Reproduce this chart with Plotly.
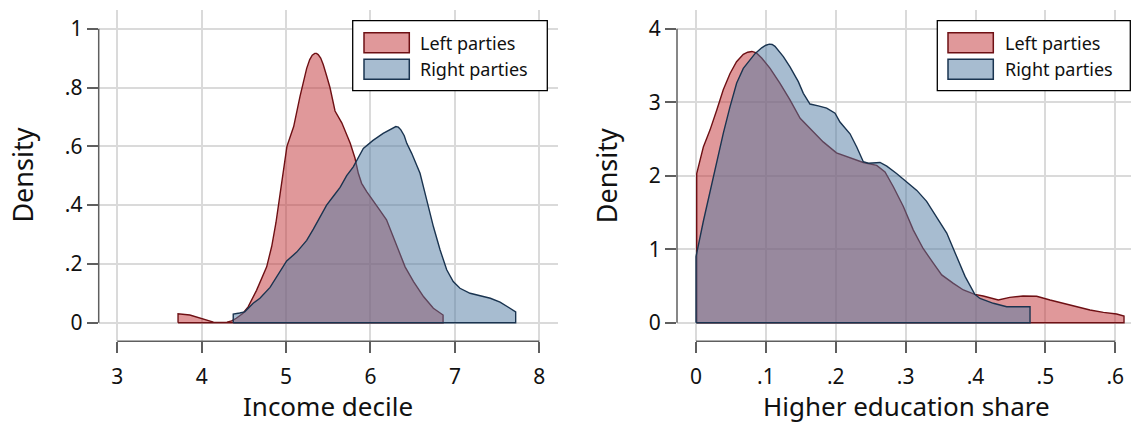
import plotly.graph_objects as go

# ---------------- data ----------------
# Panel 1: Income decile densities
inc_left_x = [3.72, 3.86, 3.98, 4.08, 4.14, 4.22, 4.30, 4.355, 4.41, 4.49, 4.55, 4.65, 4.77, 4.83, 4.88,
              4.93, 4.97, 5.01, 5.09, 5.165, 5.244, 5.28, 5.31, 5.34, 5.36, 5.38, 5.41, 5.44, 5.48,
              5.52, 5.58, 5.66, 5.76, 5.816, 5.856, 5.895, 5.955, 6.03, 6.11, 6.19, 6.29, 6.41, 6.51,
              6.63, 6.745, 6.86]
inc_left_y = [0.030, 0.026, 0.015, 0.006, 0.002, 0.001, 0.002, 0.006, 0.015, 0.032, 0.054, 0.11, 0.19, 0.26, 0.34,
              0.44, 0.52, 0.60, 0.667, 0.77, 0.865, 0.895, 0.910, 0.916, 0.916, 0.912, 0.900, 0.878, 0.84,
              0.80, 0.72, 0.68, 0.61, 0.56, 0.508, 0.474, 0.446, 0.417, 0.383, 0.35, 0.28, 0.19, 0.14,
              0.088, 0.049, 0.026]

inc_right_x = [4.374, 4.45, 4.51, 4.61, 4.69, 4.81, 4.93, 5.007, 5.126, 5.244, 5.323, 5.40, 5.48, 5.56,
               5.64, 5.718, 5.796, 5.915, 6.03, 6.15, 6.22, 6.26, 6.30, 6.33, 6.36, 6.40, 6.43, 6.488,
               6.587, 6.666, 6.745, 6.824, 6.903, 6.98, 7.06, 7.18, 7.30, 7.42, 7.535, 7.65, 7.72]
inc_right_y = [0.029, 0.033, 0.037, 0.066, 0.083, 0.12, 0.173, 0.21, 0.24, 0.28, 0.318, 0.36, 0.40, 0.43,
               0.46, 0.50, 0.53, 0.593, 0.62, 0.644, 0.655, 0.662, 0.667, 0.665, 0.656, 0.636, 0.61, 0.576,
               0.508, 0.418, 0.327, 0.248, 0.180, 0.140, 0.117, 0.100, 0.091, 0.083, 0.070, 0.049, 0.037]

# Panel 2: Higher education share densities
edu_left_x = [0.001, 0.0105, 0.020, 0.0296, 0.039, 0.0487, 0.058, 0.0677, 0.074, 0.080, 0.0864, 0.094, 0.106,
              0.120, 0.1345, 0.149, 0.163, 0.182, 0.201, 0.2204, 0.2394, 0.2586, 0.2705, 0.2824, 0.2967,
              0.311, 0.325, 0.3396, 0.3516, 0.3683, 0.3826, 0.399, 0.411, 0.4326, 0.449, 0.468, 0.4875,
              0.5066, 0.5257, 0.5448, 0.5638, 0.583, 0.602, 0.6125]
edu_left_y = [2.03, 2.39, 2.62, 2.89, 3.17, 3.39, 3.55, 3.65, 3.68, 3.69, 3.67, 3.60, 3.46,
              3.26, 3.03, 2.78, 2.64, 2.46, 2.31, 2.24, 2.18, 2.14, 2.05, 1.85, 1.58,
              1.26, 1.01, 0.81, 0.65, 0.536, 0.445, 0.386, 0.363, 0.309, 0.345, 0.363, 0.36,
              0.309, 0.264, 0.227, 0.173, 0.141, 0.118, 0.091]

edu_right_x = [0.0, 0.0105, 0.020, 0.0296, 0.0391, 0.0487, 0.0582, 0.0677, 0.0773, 0.0844, 0.094, 0.1000,
               0.1049, 0.109, 0.113, 0.125, 0.1345, 0.1464, 0.1536, 0.1631, 0.175, 0.187, 0.199, 0.206,
               0.2204, 0.23, 0.2394, 0.2466, 0.2633, 0.273, 0.287, 0.3015, 0.316, 0.330, 0.3445, 0.3588,
               0.373, 0.385, 0.399, 0.4064, 0.4255, 0.4446, 0.459, 0.478]
edu_right_y = [0.90, 1.38, 1.78, 2.17, 2.58, 2.94, 3.26, 3.46, 3.57, 3.66, 3.74, 3.775,
               3.79, 3.785, 3.76, 3.62, 3.48, 3.28, 3.12, 2.975, 2.95, 2.92, 2.85, 2.73,
               2.57, 2.39, 2.19, 2.17, 2.18, 2.13, 2.03, 1.92, 1.80, 1.65, 1.44, 1.22,
               0.90, 0.63, 0.386, 0.33, 0.264, 0.218, 0.218, 0.218]

series_names = ["Left parties", "Right parties"]

inc_ticks = [3, 4, 5, 6, 7, 8]
inc_ticktext = ["3", "4", "5", "6", "7", "8"]
inc_yticks = [0, 0.2, 0.4, 0.6, 0.8, 1]
inc_yticktext = ["0", ".2", ".4", ".6", ".8", "1"]
edu_ticks = [0, 0.1, 0.2, 0.3, 0.4, 0.5, 0.6]
edu_ticktext = ["0", ".1", ".2", ".3", ".4", ".5", ".6"]
edu_yticks = [0, 1, 2, 3, 4]
edu_yticktext = ["0", "1", "2", "3", "4"]

# ---------------- styling ----------------
W, H = 1131, 425
FONT = "Noto Sans"
LEFT_FILL = "rgba(193,49,53,0.5)"
LEFT_LINE = "rgb(110,16,20)"
RIGHT_FILL = "rgba(79,121,161,0.5)"
RIGHT_LINE = "rgb(26,52,80)"
GRID = "#dadada"
AXIS = "#5f5f5f"


def closed(xs, ys):
    px = [xs[0]] + list(xs) + [xs[-1], xs[0]]
    py = [0] + list(ys) + [0, 0]
    return px, py


fig = go.Figure()
for (xs, ys, fill, line, name, xa, ya) in [
    (inc_left_x, inc_left_y, LEFT_FILL, LEFT_LINE, series_names[0], "x", "y"),
    (inc_right_x, inc_right_y, RIGHT_FILL, RIGHT_LINE, series_names[1], "x", "y"),
    (edu_left_x, edu_left_y, LEFT_FILL, LEFT_LINE, series_names[0], "x2", "y2"),
    (edu_right_x, edu_right_y, RIGHT_FILL, RIGHT_LINE, series_names[1], "x2", "y2"),
]:
    px, py = closed(xs, ys)
    fig.add_trace(go.Scatter(x=px, y=py, mode="lines", fill="toself", fillcolor=fill,
                             line=dict(color=line, width=1.4), name=name, showlegend=False,
                             xaxis=xa, yaxis=ya, hoverinfo="skip"))

ydom = [(H - 341.3) / H, (H - 10) / H]
axis_common = dict(showgrid=True, gridcolor=GRID, gridwidth=1.5, zeroline=False, showline=False,
                   ticks="outside", ticklen=11, tickwidth=1.5, tickcolor=AXIS,
                   tickfont=dict(family=FONT, size=21, color="#111"), tickmode="array")

fig.update_layout(
    width=W, height=H, margin=dict(l=0, r=0, t=0, b=0),
    paper_bgcolor="white", plot_bgcolor="white", showlegend=False,
    xaxis=dict(domain=[98.7 / W, 557.7 / W], range=[2.78, 8.218], tickvals=inc_ticks,
               ticktext=inc_ticktext, anchor="y", ticklabelstandoff=5, **axis_common),
    yaxis=dict(domain=ydom, range=[-0.0633, 1.0636], tickvals=inc_yticks,
               ticktext=inc_yticktext, anchor="x", **axis_common),
    xaxis2=dict(domain=[677 / W, 1.0], range=[-0.0272, 0.6225], tickvals=edu_ticks,
                ticktext=edu_ticktext, anchor="y2", ticklabelstandoff=5, **axis_common),
    yaxis2=dict(domain=ydom, range=[-0.253, 4.254], tickvals=edu_yticks,
                ticktext=edu_yticktext, anchor="x2", **axis_common),
)

# bounded axis lines (Stata style)
shapes = [
    dict(type="line", xref="x domain", yref="y", x0=0, x1=0, y0=0, y1=1,
         line=dict(color=AXIS, width=1.5)),
    dict(type="line", xref="x", yref="y domain", x0=3, x1=8, y0=0, y1=0,
         line=dict(color=AXIS, width=1.5)),
    dict(type="line", xref="x2 domain", yref="y2", x0=0, x1=0, y0=0, y1=4,
         line=dict(color=AXIS, width=1.5)),
    dict(type="line", xref="x2", yref="y2 domain", x0=0, x1=0.6, y0=0, y1=0,
         line=dict(color=AXIS, width=1.5)),
]

annotations = []


def px2paper(x, y):
    return x / W, 1 - y / H


# manual legends
for (bx0, bx1, sx0, sx1, tx) in [(352.7, 547.3, 364, 409.3, 418.3),
                                 (937.3, 1130.3, 948, 993.3, 1002.7)]:
    x0, y0 = px2paper(bx0, 90.7)
    x1, y1 = px2paper(bx1, 20.7)
    shapes.append(dict(type="rect", xref="paper", yref="paper", x0=x0, x1=x1, y0=y0, y1=y1,
                       fillcolor="white", line=dict(color="black", width=1.3), layer="above"))
    for (top, bot, fill, line, name, ty) in [(32.7, 52.7, LEFT_FILL, LEFT_LINE, series_names[0], 42.7),
                                             (59.3, 79.3, RIGHT_FILL, RIGHT_LINE, series_names[1], 69.3)]:
        a0, b0 = px2paper(sx0, bot)
        a1, b1 = px2paper(sx1, top)
        shapes.append(dict(type="rect", xref="paper", yref="paper", x0=a0, x1=a1, y0=b0, y1=b1,
                           fillcolor=fill, line=dict(color=line, width=1.5), layer="above"))
        ax, ay = px2paper(tx, ty)
        annotations.append(dict(text=name, xref="paper", yref="paper", x=ax, y=ay,
                                xanchor="left", yanchor="middle", showarrow=False,
                                font=dict(family=FONT, size=18, color="#111")))

# axis titles (x titles sit at the bottom edge, as in the reference)
for (text, x) in [("Income decile", 328.2), ("Higher education share", 906)]:
    ax, _ = px2paper(x, 0)
    annotations.append(dict(text=text, xref="paper", yref="paper", x=ax, y=0.0,
                            xanchor="center", yanchor="bottom", showarrow=False, borderpad=0,
                            font=dict(family=FONT, size=26, color="#111")))
for x in [23, 606.7]:
    ax, ay = px2paper(x, 175.6)
    annotations.append(dict(text="Density", xref="paper", yref="paper", x=ax, y=ay, textangle=-90,
                            xanchor="center", yanchor="middle", showarrow=False,
                            font=dict(family=FONT, size=27, color="#111")))

fig.update_layout(shapes=shapes, annotations=annotations)
fig.write_html(
    "out.html",
    config={"displayModeBar": False},
    post_script="document.body.style.margin='0';document.body.style.padding='0';"
                "document.documentElement.style.overflow='hidden';",
)
